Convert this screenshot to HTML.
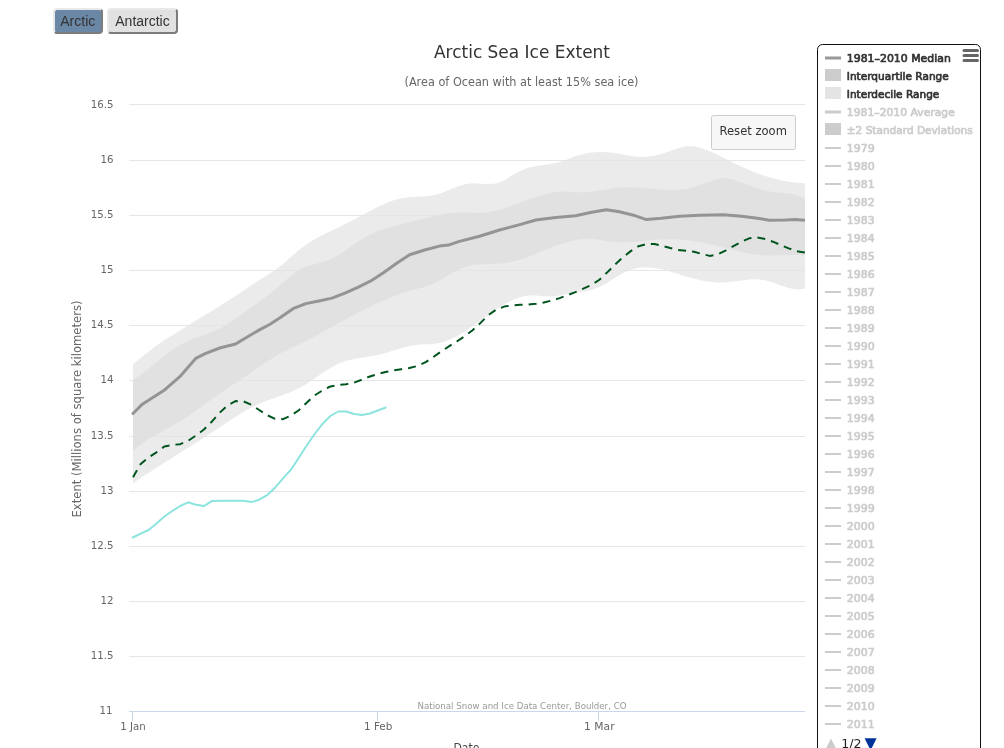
<!DOCTYPE html>
<html lang="en"><head><meta charset="utf-8"><title>Arctic Sea Ice Extent</title>
<style>
html,body{margin:0;padding:0;background:#fff;}
body{width:1004px;height:748px;overflow:hidden;position:relative;font-family:"Liberation Sans",sans-serif;}
.btn{position:absolute;top:8px;height:26px;box-sizing:border-box;border:2px solid;border-color:#e9e9e9 #7c7c7c #7c7c7c #e9e9e9;border-radius:4px;font:14px/20px "Liberation Sans",sans-serif;color:#333;text-align:center;padding:1px 0 0 0;cursor:default;}
#b1{left:52.5px;width:50.5px;background:#6b87a6;}
#b2{left:107px;width:71px;background:#e1e1e1;}
svg{position:absolute;left:0;top:0;}
svg text{font-family:'DejaVu Sans', 'Liberation Sans', sans-serif;}
</style></head><body>
<div class="btn" id="b1">Arctic</div><div class="btn" id="b2">Antarctic</div>
<svg width="1004" height="748" viewBox="0 0 1004 748">
<defs><clipPath id="cp"><rect x="129" y="104" width="676" height="607"/></clipPath></defs>

<path d="M129 104.5 L805 104.5" stroke="#e6e6e6" stroke-width="1" fill="none"/>
<path d="M129 160.5 L805 160.5" stroke="#e6e6e6" stroke-width="1" fill="none"/>
<path d="M129 215.5 L805 215.5" stroke="#e6e6e6" stroke-width="1" fill="none"/>
<path d="M129 270.5 L805 270.5" stroke="#e6e6e6" stroke-width="1" fill="none"/>
<path d="M129 325.5 L805 325.5" stroke="#e6e6e6" stroke-width="1" fill="none"/>
<path d="M129 380.5 L805 380.5" stroke="#e6e6e6" stroke-width="1" fill="none"/>
<path d="M129 436.5 L805 436.5" stroke="#e6e6e6" stroke-width="1" fill="none"/>
<path d="M129 491.5 L805 491.5" stroke="#e6e6e6" stroke-width="1" fill="none"/>
<path d="M129 546.5 L805 546.5" stroke="#e6e6e6" stroke-width="1" fill="none"/>
<path d="M129 601.5 L805 601.5" stroke="#e6e6e6" stroke-width="1" fill="none"/>
<path d="M129 656.5 L805 656.5" stroke="#e6e6e6" stroke-width="1" fill="none"/>
<path d="M129 711.5 L805 711.5" stroke="#ccd6eb" stroke-width="1" fill="none"/>
<path d="M132.5 711 L132.5 721" stroke="#ccd6eb" stroke-width="1" fill="none"/>
<path d="M377.5 711 L377.5 721" stroke="#ccd6eb" stroke-width="1" fill="none"/>
<path d="M598.5 711 L598.5 721" stroke="#ccd6eb" stroke-width="1" fill="none"/>
<g clip-path="url(#cp)">
<path d="M133.0 364.1 L140.7 358.1 L148.6 351.7 L156.5 345.4 L164.4 340.0 L172.3 335.3 L180.2 330.6 L188.1 325.5 L196.0 320.6 L203.9 315.8 L211.8 310.9 L219.7 306.0 L227.6 301.1 L235.5 296.0 L243.4 290.8 L251.3 285.4 L259.2 280.1 L267.2 275.2 L275.1 270.1 L283.0 264.0 L290.9 257.0 L298.8 250.1 L306.7 244.2 L314.6 239.2 L322.5 235.0 L330.4 231.2 L338.3 227.5 L346.2 223.6 L354.1 219.5 L362.0 215.2 L369.9 210.9 L377.8 206.8 L385.7 203.2 L393.6 200.3 L401.5 198.3 L409.4 197.3 L417.3 196.8 L425.2 196.3 L433.1 195.3 L441.0 193.2 L448.9 190.0 L456.8 186.7 L464.7 184.2 L472.6 183.3 L480.5 183.7 L488.4 184.1 L496.3 183.4 L504.2 180.4 L512.1 175.5 L520.0 170.9 L528.0 167.8 L535.9 166.0 L543.8 164.9 L551.7 163.7 L559.6 161.9 L567.5 159.3 L575.4 156.3 L583.3 153.9 L591.2 152.5 L599.1 151.9 L607.0 152.2 L614.9 153.1 L622.8 154.6 L630.7 156.1 L638.6 156.9 L646.5 156.8 L654.4 155.8 L662.3 153.8 L670.2 151.0 L678.1 148.2 L686.0 146.3 L693.9 146.3 L701.8 148.2 L709.7 151.2 L717.6 154.8 L725.5 158.8 L733.4 162.9 L741.3 166.6 L749.2 170.1 L757.1 173.2 L765.0 175.9 L772.9 178.2 L780.8 180.2 L788.7 181.7 L796.7 182.7 L804.6 183.3 L805.0 183.3 L805.0 288.7 L804.6 288.8 L796.7 289.5 L788.7 288.0 L780.8 285.4 L772.9 282.5 L765.0 280.2 L757.1 279.2 L749.2 279.5 L741.3 280.5 L733.4 281.6 L725.5 282.4 L717.6 282.5 L709.7 281.7 L701.8 280.4 L693.9 278.6 L686.0 276.4 L678.1 274.0 L670.2 271.6 L662.3 269.5 L654.4 267.9 L646.5 267.3 L638.6 267.8 L630.7 269.7 L622.8 273.3 L614.9 277.9 L607.0 282.9 L599.1 287.2 L591.2 290.1 L583.3 291.8 L575.4 292.9 L567.5 294.1 L559.6 295.5 L551.7 296.5 L543.8 296.3 L535.9 295.5 L528.0 295.6 L520.0 297.2 L512.1 300.2 L504.2 304.4 L496.3 309.4 L488.4 314.9 L480.5 320.6 L472.6 326.2 L464.7 331.5 L456.8 336.2 L448.9 340.0 L441.0 342.7 L433.1 344.0 L425.2 344.3 L417.3 344.7 L409.4 346.0 L401.5 348.1 L393.6 350.5 L385.7 353.0 L377.8 355.1 L369.9 356.5 L362.0 357.6 L354.1 358.9 L346.2 360.8 L338.3 363.7 L330.4 368.0 L322.5 373.0 L314.6 378.5 L306.7 383.7 L298.8 388.3 L290.9 392.0 L283.0 395.0 L275.1 397.7 L267.2 400.5 L259.2 403.7 L251.3 407.6 L243.4 412.0 L235.5 417.0 L227.6 422.1 L219.7 427.4 L211.8 432.6 L203.9 437.7 L196.0 442.7 L188.1 447.7 L180.2 452.7 L172.3 457.7 L164.4 462.7 L156.5 467.8 L148.6 472.9 L140.7 478.1 L133.0 483.3 Z" fill="rgba(228,228,228,0.75)"/>
<path d="M133.0 379.8 L140.7 374.7 L148.6 368.7 L156.5 362.3 L164.4 355.9 L172.3 350.0 L180.2 344.9 L188.1 341.0 L196.0 337.8 L203.9 334.9 L211.8 331.9 L219.7 328.4 L227.6 324.0 L235.5 318.8 L243.4 313.2 L251.3 307.3 L259.2 301.4 L267.2 295.7 L275.1 289.7 L283.0 282.8 L290.9 275.7 L298.8 269.7 L306.7 266.2 L314.6 264.3 L322.5 262.3 L330.4 259.3 L338.3 255.2 L346.2 249.9 L354.1 244.2 L362.0 238.9 L369.9 234.7 L377.8 231.3 L385.7 228.6 L393.6 226.3 L401.5 224.2 L409.4 222.1 L417.3 220.2 L425.2 218.3 L433.1 216.5 L441.0 214.7 L448.9 213.3 L456.8 212.3 L464.7 212.3 L472.6 212.8 L480.5 212.9 L488.4 212.2 L496.3 210.5 L504.2 208.3 L512.1 205.6 L520.0 202.7 L528.0 199.7 L535.9 196.9 L543.8 194.4 L551.7 192.5 L559.6 191.5 L567.5 191.7 L575.4 192.2 L583.3 192.3 L591.2 191.7 L599.1 190.5 L607.0 189.2 L614.9 188.1 L622.8 187.4 L630.7 187.3 L638.6 187.7 L646.5 188.3 L654.4 189.0 L662.3 189.7 L670.2 190.1 L678.1 190.0 L686.0 189.1 L693.9 187.2 L701.8 184.4 L709.7 181.4 L717.6 179.0 L725.5 178.1 L733.4 179.6 L741.3 182.4 L749.2 185.4 L757.1 188.2 L765.0 190.5 L772.9 192.1 L780.8 192.8 L788.7 193.5 L796.7 195.1 L804.6 198.4 L805.0 198.7 L805.0 255.9 L804.6 255.8 L796.7 254.7 L788.7 254.7 L780.8 255.1 L772.9 255.5 L765.0 255.4 L757.1 254.8 L749.2 253.6 L741.3 252.0 L733.4 250.1 L725.5 248.1 L717.6 246.1 L709.7 244.2 L701.8 242.6 L693.9 241.2 L686.0 240.1 L678.1 239.5 L670.2 239.3 L662.3 239.5 L654.4 240.1 L646.5 240.8 L638.6 241.6 L630.7 242.2 L622.8 242.4 L614.9 242.1 L607.0 241.2 L599.1 239.8 L591.2 238.8 L583.3 238.9 L575.4 240.1 L567.5 242.1 L559.6 244.5 L551.7 247.3 L543.8 250.4 L535.9 253.8 L528.0 257.0 L520.0 259.7 L512.1 261.8 L504.2 263.2 L496.3 263.8 L488.4 264.0 L480.5 264.2 L472.6 265.1 L464.7 267.3 L456.8 270.8 L448.9 275.1 L441.0 279.6 L433.1 283.8 L425.2 286.8 L417.3 288.8 L409.4 290.8 L401.5 293.2 L393.6 296.3 L385.7 299.6 L377.8 303.1 L369.9 306.8 L362.0 310.7 L354.1 314.7 L346.2 318.9 L338.3 323.3 L330.4 327.7 L322.5 332.2 L314.6 336.6 L306.7 340.7 L298.8 344.6 L290.9 348.1 L283.0 352.0 L275.1 356.6 L267.2 361.6 L259.2 366.9 L251.3 372.4 L243.4 377.9 L235.5 383.1 L227.6 388.2 L219.7 393.4 L211.8 399.0 L203.9 404.8 L196.0 410.6 L188.1 416.2 L180.2 421.3 L172.3 425.9 L164.4 430.2 L156.5 434.4 L148.6 439.1 L140.7 444.5 L133.0 450.9 Z" fill="rgba(222,222,222,0.75)"/>
<path d="M133.0 413.5 L141.9 404.6 L163.8 390.6 L179.8 376.7 L195.7 358.4 L205.7 353.4 L219.7 348.0 L235.6 344.0 L249.7 335.5 L259.4 329.9 L269.6 324.5 L280.0 317.8 L293.0 308.7 L305.9 303.6 L318.9 301.0 L331.9 298.1 L344.9 293.2 L357.8 287.3 L370.8 280.9 L383.8 272.4 L396.7 263.3 L409.6 254.8 L425.5 249.7 L439.4 246.1 L448.4 245.1 L459.4 241.4 L479.5 236.2 L499.5 230.0 L519.8 224.6 L535.8 220.0 L555.7 217.6 L575.6 215.7 L591.6 212.3 L606.5 209.7 L619.4 211.7 L633.4 215.2 L646.3 219.6 L661.5 218.3 L679.5 216.2 L699.7 215.3 L723.6 214.7 L741.6 216.3 L755.5 218.0 L769.4 220.2 L785.4 220.0 L795.3 219.6 L805.0 220.2" fill="none" stroke="#949494" stroke-width="3" stroke-linejoin="round" stroke-linecap="round"/>
<path d="M133.0 477.2 L140.7 463.9 L148.6 457.3 L156.5 452.3 L164.4 446.5 L172.3 444.9 L180.2 444.2 L188.1 440.8 L196.0 435.5 L203.9 429.5 L211.8 421.7 L219.7 412.7 L227.6 405.3 L235.5 401.1 L243.4 401.3 L251.3 404.8 L259.2 410.0 L267.2 415.2 L275.1 418.8 L283.0 419.2 L290.9 415.7 L298.8 410.2 L306.7 402.7 L314.6 395.4 L322.5 390.4 L330.4 386.5 L338.3 384.9 L346.2 384.2 L354.1 382.6 L362.0 379.6 L369.9 376.5 L377.8 374.0 L385.7 372.0 L393.6 370.4 L401.5 369.2 L409.4 368.0 L417.3 366.0 L425.2 362.4 L433.1 357.2 L441.0 351.6 L448.9 346.4 L456.8 341.5 L464.7 336.2 L472.6 330.2 L480.5 322.9 L488.4 315.1 L496.3 309.6 L504.2 306.6 L512.1 305.3 L520.0 304.8 L528.0 304.5 L535.9 303.8 L543.8 302.5 L551.7 300.5 L559.6 298.1 L567.5 295.2 L575.4 292.1 L583.3 288.6 L591.2 285.0 L599.1 280.0 L607.0 272.6 L614.9 264.7 L622.8 257.4 L630.7 251.1 L638.6 246.2 L646.5 244.0 L654.4 244.1 L662.3 245.8 L670.2 248.0 L678.1 249.9 L686.0 250.8 L693.9 251.7 L701.8 253.9 L709.7 255.9 L717.6 254.4 L725.5 250.6 L733.4 246.2 L741.3 241.8 L749.2 238.3 L757.1 237.4 L765.0 238.9 L772.9 241.7 L780.8 245.1 L788.7 248.4 L796.7 251.1 L804.6 252.5 L805.0 252.6" fill="none" stroke="#00551f" stroke-width="2" stroke-dasharray="8,6" stroke-linejoin="round"/>
<path d="M132.8 537.5 L140.7 533.7 L148.6 530.0 L156.5 523.5 L164.4 516.5 L172.3 511.0 L180.2 506.0 L188.1 502.3 L196.0 504.7 L203.9 506.1 L211.8 501.1 L219.7 500.7 L227.6 500.7 L235.5 500.7 L243.4 500.7 L251.3 502.1 L259.2 499.7 L267.2 495.1 L275.1 487.7 L283.0 478.4 L290.9 469.8 L298.8 457.8 L306.7 445.5 L314.6 434.0 L322.5 424.0 L330.4 416.0 L338.3 411.5 L346.2 411.5 L354.1 414.0 L362.0 415.0 L369.9 413.5 L377.8 410.5 L385.7 407.5" fill="none" stroke="#8be4de" stroke-width="2" stroke-linejoin="round" stroke-linecap="round"/>
</g>
<text x="522.0" y="58.0" font-size="18" fill="#333333" text-anchor="middle" textLength="176.0" lengthAdjust="spacingAndGlyphs">Arctic Sea Ice Extent</text>
<text x="521.5" y="85.5" font-size="12" fill="#666666" text-anchor="middle" textLength="234.0" lengthAdjust="spacingAndGlyphs">(Area of Ocean with at least 15% sea ice)</text>
<text x="113.5" y="107.9" font-size="11" fill="#666666" text-anchor="end" textLength="22.8" lengthAdjust="spacingAndGlyphs">16.5</text>
<text x="113.5" y="163.0" font-size="11" fill="#666666" text-anchor="end" textLength="13.0" lengthAdjust="spacingAndGlyphs">16</text>
<text x="113.5" y="218.1" font-size="11" fill="#666666" text-anchor="end" textLength="22.8" lengthAdjust="spacingAndGlyphs">15.5</text>
<text x="113.5" y="273.2" font-size="11" fill="#666666" text-anchor="end" textLength="13.0" lengthAdjust="spacingAndGlyphs">15</text>
<text x="113.5" y="328.3" font-size="11" fill="#666666" text-anchor="end" textLength="22.8" lengthAdjust="spacingAndGlyphs">14.5</text>
<text x="113.5" y="383.4" font-size="11" fill="#666666" text-anchor="end" textLength="13.0" lengthAdjust="spacingAndGlyphs">14</text>
<text x="113.5" y="438.5" font-size="11" fill="#666666" text-anchor="end" textLength="22.8" lengthAdjust="spacingAndGlyphs">13.5</text>
<text x="113.5" y="493.6" font-size="11" fill="#666666" text-anchor="end" textLength="13.0" lengthAdjust="spacingAndGlyphs">13</text>
<text x="113.5" y="548.7" font-size="11" fill="#666666" text-anchor="end" textLength="22.8" lengthAdjust="spacingAndGlyphs">12.5</text>
<text x="113.5" y="603.8" font-size="11" fill="#666666" text-anchor="end" textLength="13.0" lengthAdjust="spacingAndGlyphs">12</text>
<text x="113.5" y="658.9" font-size="11" fill="#666666" text-anchor="end" textLength="22.8" lengthAdjust="spacingAndGlyphs">11.5</text>
<text x="112.6" y="714.0" font-size="11" fill="#666666" text-anchor="end" textLength="13.0" lengthAdjust="spacingAndGlyphs">11</text>
<text x="133.0" y="729.5" font-size="11" fill="#666666" text-anchor="middle" textLength="25.5" lengthAdjust="spacingAndGlyphs">1 Jan</text>
<text x="378.2" y="729.5" font-size="11" fill="#666666" text-anchor="middle" textLength="28.5" lengthAdjust="spacingAndGlyphs">1 Feb</text>
<text x="599.3" y="729.5" font-size="11" fill="#666666" text-anchor="middle" textLength="30.5" lengthAdjust="spacingAndGlyphs">1 Mar</text>
<text x="0" y="0" font-size="12" fill="#666666" text-anchor="middle" textLength="217" lengthAdjust="spacingAndGlyphs" transform="translate(80.5,409) rotate(-90)">Extent (Millions of square kilometers)</text>
<text x="466.5" y="752.4" font-size="12" fill="#444444" text-anchor="middle" textLength="26.0" lengthAdjust="spacingAndGlyphs">Date</text>
<text x="417.5" y="709.0" font-size="9" fill="#999999" textLength="209.0" lengthAdjust="spacingAndGlyphs">National Snow and Ice Data Center, Boulder, CO</text>
<rect x="711.5" y="115.5" width="84" height="34" rx="2" ry="2" fill="#f7f7f7" stroke="#cccccc" stroke-width="1"/>
<text x="719.5" y="135.0" font-size="12" fill="#333333" textLength="67.4" lengthAdjust="spacingAndGlyphs">Reset zoom</text>
<rect x="817.5" y="44.5" width="163" height="720" rx="5" ry="5" fill="none" stroke="#111111" stroke-width="1"/>
<path d="M825 58.0 L841 58.0" stroke="#999999" stroke-width="3" fill="none"/>
<text x="846.8" y="61.7" font-size="11" fill="#333333" stroke="#333333" stroke-width="0.7" textLength="104.0" lengthAdjust="spacingAndGlyphs">1981–2010 Median</text>
<rect x="825" y="69" width="16" height="12" fill="#cccccc"/>
<text x="846.8" y="79.7" font-size="11" fill="#333333" stroke="#333333" stroke-width="0.7" textLength="102.0" lengthAdjust="spacingAndGlyphs">Interquartile Range</text>
<rect x="825" y="87" width="16" height="12" fill="#e4e4e4"/>
<text x="846.8" y="97.7" font-size="11" fill="#333333" stroke="#333333" stroke-width="0.7" textLength="92.5" lengthAdjust="spacingAndGlyphs">Interdecile Range</text>
<path d="M825 112.0 L841 112.0" stroke="#cccccc" stroke-width="3" fill="none"/>
<text x="846.8" y="115.7" font-size="11" fill="#cccccc" stroke="#cccccc" stroke-width="0.7" textLength="108.0" lengthAdjust="spacingAndGlyphs">1981–2010 Average</text>
<rect x="825" y="123" width="16" height="12" fill="#cccccc"/>
<text x="846.8" y="133.7" font-size="11" fill="#cccccc" stroke="#cccccc" stroke-width="0.7" textLength="126.0" lengthAdjust="spacingAndGlyphs">±2 Standard Deviations</text>
<path d="M825 148.0 L841 148.0" stroke="#cccccc" stroke-width="2" fill="none"/>
<text x="846.8" y="151.7" font-size="11" fill="#cccccc" stroke="#cccccc" stroke-width="0.7" textLength="27.8" lengthAdjust="spacingAndGlyphs">1979</text>
<path d="M825 166.0 L841 166.0" stroke="#cccccc" stroke-width="2" fill="none"/>
<text x="846.8" y="169.7" font-size="11" fill="#cccccc" stroke="#cccccc" stroke-width="0.7" textLength="27.8" lengthAdjust="spacingAndGlyphs">1980</text>
<path d="M825 184.0 L841 184.0" stroke="#cccccc" stroke-width="2" fill="none"/>
<text x="846.8" y="187.7" font-size="11" fill="#cccccc" stroke="#cccccc" stroke-width="0.7" textLength="27.8" lengthAdjust="spacingAndGlyphs">1981</text>
<path d="M825 202.0 L841 202.0" stroke="#cccccc" stroke-width="2" fill="none"/>
<text x="846.8" y="205.7" font-size="11" fill="#cccccc" stroke="#cccccc" stroke-width="0.7" textLength="27.8" lengthAdjust="spacingAndGlyphs">1982</text>
<path d="M825 220.0 L841 220.0" stroke="#cccccc" stroke-width="2" fill="none"/>
<text x="846.8" y="223.7" font-size="11" fill="#cccccc" stroke="#cccccc" stroke-width="0.7" textLength="27.8" lengthAdjust="spacingAndGlyphs">1983</text>
<path d="M825 238.0 L841 238.0" stroke="#cccccc" stroke-width="2" fill="none"/>
<text x="846.8" y="241.7" font-size="11" fill="#cccccc" stroke="#cccccc" stroke-width="0.7" textLength="27.8" lengthAdjust="spacingAndGlyphs">1984</text>
<path d="M825 256.0 L841 256.0" stroke="#cccccc" stroke-width="2" fill="none"/>
<text x="846.8" y="259.7" font-size="11" fill="#cccccc" stroke="#cccccc" stroke-width="0.7" textLength="27.8" lengthAdjust="spacingAndGlyphs">1985</text>
<path d="M825 274.0 L841 274.0" stroke="#cccccc" stroke-width="2" fill="none"/>
<text x="846.8" y="277.7" font-size="11" fill="#cccccc" stroke="#cccccc" stroke-width="0.7" textLength="27.8" lengthAdjust="spacingAndGlyphs">1986</text>
<path d="M825 292.0 L841 292.0" stroke="#cccccc" stroke-width="2" fill="none"/>
<text x="846.8" y="295.7" font-size="11" fill="#cccccc" stroke="#cccccc" stroke-width="0.7" textLength="27.8" lengthAdjust="spacingAndGlyphs">1987</text>
<path d="M825 310.0 L841 310.0" stroke="#cccccc" stroke-width="2" fill="none"/>
<text x="846.8" y="313.7" font-size="11" fill="#cccccc" stroke="#cccccc" stroke-width="0.7" textLength="27.8" lengthAdjust="spacingAndGlyphs">1988</text>
<path d="M825 328.0 L841 328.0" stroke="#cccccc" stroke-width="2" fill="none"/>
<text x="846.8" y="331.7" font-size="11" fill="#cccccc" stroke="#cccccc" stroke-width="0.7" textLength="27.8" lengthAdjust="spacingAndGlyphs">1989</text>
<path d="M825 346.0 L841 346.0" stroke="#cccccc" stroke-width="2" fill="none"/>
<text x="846.8" y="349.7" font-size="11" fill="#cccccc" stroke="#cccccc" stroke-width="0.7" textLength="27.8" lengthAdjust="spacingAndGlyphs">1990</text>
<path d="M825 364.0 L841 364.0" stroke="#cccccc" stroke-width="2" fill="none"/>
<text x="846.8" y="367.7" font-size="11" fill="#cccccc" stroke="#cccccc" stroke-width="0.7" textLength="27.8" lengthAdjust="spacingAndGlyphs">1991</text>
<path d="M825 382.0 L841 382.0" stroke="#cccccc" stroke-width="2" fill="none"/>
<text x="846.8" y="385.7" font-size="11" fill="#cccccc" stroke="#cccccc" stroke-width="0.7" textLength="27.8" lengthAdjust="spacingAndGlyphs">1992</text>
<path d="M825 400.0 L841 400.0" stroke="#cccccc" stroke-width="2" fill="none"/>
<text x="846.8" y="403.7" font-size="11" fill="#cccccc" stroke="#cccccc" stroke-width="0.7" textLength="27.8" lengthAdjust="spacingAndGlyphs">1993</text>
<path d="M825 418.0 L841 418.0" stroke="#cccccc" stroke-width="2" fill="none"/>
<text x="846.8" y="421.7" font-size="11" fill="#cccccc" stroke="#cccccc" stroke-width="0.7" textLength="27.8" lengthAdjust="spacingAndGlyphs">1994</text>
<path d="M825 436.0 L841 436.0" stroke="#cccccc" stroke-width="2" fill="none"/>
<text x="846.8" y="439.7" font-size="11" fill="#cccccc" stroke="#cccccc" stroke-width="0.7" textLength="27.8" lengthAdjust="spacingAndGlyphs">1995</text>
<path d="M825 454.0 L841 454.0" stroke="#cccccc" stroke-width="2" fill="none"/>
<text x="846.8" y="457.7" font-size="11" fill="#cccccc" stroke="#cccccc" stroke-width="0.7" textLength="27.8" lengthAdjust="spacingAndGlyphs">1996</text>
<path d="M825 472.0 L841 472.0" stroke="#cccccc" stroke-width="2" fill="none"/>
<text x="846.8" y="475.7" font-size="11" fill="#cccccc" stroke="#cccccc" stroke-width="0.7" textLength="27.8" lengthAdjust="spacingAndGlyphs">1997</text>
<path d="M825 490.0 L841 490.0" stroke="#cccccc" stroke-width="2" fill="none"/>
<text x="846.8" y="493.7" font-size="11" fill="#cccccc" stroke="#cccccc" stroke-width="0.7" textLength="27.8" lengthAdjust="spacingAndGlyphs">1998</text>
<path d="M825 508.0 L841 508.0" stroke="#cccccc" stroke-width="2" fill="none"/>
<text x="846.8" y="511.7" font-size="11" fill="#cccccc" stroke="#cccccc" stroke-width="0.7" textLength="27.8" lengthAdjust="spacingAndGlyphs">1999</text>
<path d="M825 526.0 L841 526.0" stroke="#cccccc" stroke-width="2" fill="none"/>
<text x="846.8" y="529.7" font-size="11" fill="#cccccc" stroke="#cccccc" stroke-width="0.7" textLength="27.8" lengthAdjust="spacingAndGlyphs">2000</text>
<path d="M825 544.0 L841 544.0" stroke="#cccccc" stroke-width="2" fill="none"/>
<text x="846.8" y="547.7" font-size="11" fill="#cccccc" stroke="#cccccc" stroke-width="0.7" textLength="27.8" lengthAdjust="spacingAndGlyphs">2001</text>
<path d="M825 562.0 L841 562.0" stroke="#cccccc" stroke-width="2" fill="none"/>
<text x="846.8" y="565.7" font-size="11" fill="#cccccc" stroke="#cccccc" stroke-width="0.7" textLength="27.8" lengthAdjust="spacingAndGlyphs">2002</text>
<path d="M825 580.0 L841 580.0" stroke="#cccccc" stroke-width="2" fill="none"/>
<text x="846.8" y="583.7" font-size="11" fill="#cccccc" stroke="#cccccc" stroke-width="0.7" textLength="27.8" lengthAdjust="spacingAndGlyphs">2003</text>
<path d="M825 598.0 L841 598.0" stroke="#cccccc" stroke-width="2" fill="none"/>
<text x="846.8" y="601.7" font-size="11" fill="#cccccc" stroke="#cccccc" stroke-width="0.7" textLength="27.8" lengthAdjust="spacingAndGlyphs">2004</text>
<path d="M825 616.0 L841 616.0" stroke="#cccccc" stroke-width="2" fill="none"/>
<text x="846.8" y="619.7" font-size="11" fill="#cccccc" stroke="#cccccc" stroke-width="0.7" textLength="27.8" lengthAdjust="spacingAndGlyphs">2005</text>
<path d="M825 634.0 L841 634.0" stroke="#cccccc" stroke-width="2" fill="none"/>
<text x="846.8" y="637.7" font-size="11" fill="#cccccc" stroke="#cccccc" stroke-width="0.7" textLength="27.8" lengthAdjust="spacingAndGlyphs">2006</text>
<path d="M825 652.0 L841 652.0" stroke="#cccccc" stroke-width="2" fill="none"/>
<text x="846.8" y="655.7" font-size="11" fill="#cccccc" stroke="#cccccc" stroke-width="0.7" textLength="27.8" lengthAdjust="spacingAndGlyphs">2007</text>
<path d="M825 670.0 L841 670.0" stroke="#cccccc" stroke-width="2" fill="none"/>
<text x="846.8" y="673.7" font-size="11" fill="#cccccc" stroke="#cccccc" stroke-width="0.7" textLength="27.8" lengthAdjust="spacingAndGlyphs">2008</text>
<path d="M825 688.0 L841 688.0" stroke="#cccccc" stroke-width="2" fill="none"/>
<text x="846.8" y="691.7" font-size="11" fill="#cccccc" stroke="#cccccc" stroke-width="0.7" textLength="27.8" lengthAdjust="spacingAndGlyphs">2009</text>
<path d="M825 706.0 L841 706.0" stroke="#cccccc" stroke-width="2" fill="none"/>
<text x="846.8" y="709.7" font-size="11" fill="#cccccc" stroke="#cccccc" stroke-width="0.7" textLength="27.8" lengthAdjust="spacingAndGlyphs">2010</text>
<path d="M825 724.0 L841 724.0" stroke="#cccccc" stroke-width="2" fill="none"/>
<text x="846.8" y="727.7" font-size="11" fill="#cccccc" stroke="#cccccc" stroke-width="0.7" textLength="27.8" lengthAdjust="spacingAndGlyphs">2011</text>
<path d="M831 738.5 L837 750.5 L825 750.5 Z" fill="#cccccc"/>
<text x="841.3" y="747.5" font-size="12" fill="#222222" textLength="20.3" lengthAdjust="spacingAndGlyphs">1/2</text>
<path d="M864.6 738.3 L876.6 738.3 L870.6 750.3 Z" fill="#003399"/>
<path d="M964 50.5 L977.5 50.5 M964 55.5 L977.5 55.5 M964 60.5 L977.5 60.5" stroke="#666666" stroke-width="3" stroke-linecap="round" fill="none"/>
</svg></body></html>
